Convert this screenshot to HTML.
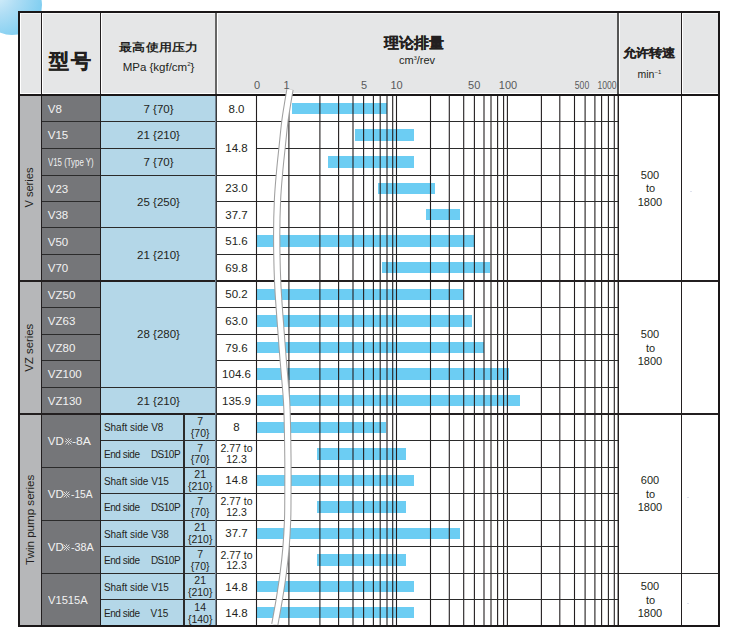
<!DOCTYPE html><html><head><meta charset="utf-8"><style>

*{margin:0;padding:0;box-sizing:border-box}
html,body{width:740px;height:637px;overflow:hidden;background:#fff}
body{position:relative;font-family:"Liberation Sans",sans-serif;color:#231f20}
.a{position:absolute}
.t{position:absolute;white-space:nowrap;line-height:1}
.c{text-align:center}
.bar{position:absolute;background:#6ccdf3;height:11px}
.w{color:#f2f2f2}

</style></head><body>
<div class="a" style="left:-18px;top:-25.2px;width:60px;height:60px;border-radius:50%;background:radial-gradient(circle at 22% 30%,#dcf1fb 0%,#b0def5 35%,#86d0f1 72%,#6fc8ef 100%)"></div>
<div class="a" style="left:18px;top:11px;width:702px;height:85px;background:#e5e6e7"></div>
<div class="a" style="left:18px;top:96px;width:702px;height:531px;background:#fff"></div>
<div class="a" style="left:20px;top:96px;width:21px;height:530px;background:#b6b7b9"></div>
<div class="a" style="left:42px;top:96px;width:58px;height:530px;background:#757679"></div>
<div class="a" style="left:101px;top:96px;width:115px;height:530px;background:#b4d7e8"></div>
<div class="a" style="left:20px;top:13px;width:21px;height:81px;border-left:1px solid #fff;border-top:1px solid #f4f4f4;border-bottom:1px solid #fff"></div>
<div class="a" style="left:42px;top:13px;width:58px;height:81px;border-left:1px solid #fff;border-top:1px solid #f4f4f4;border-bottom:1px solid #fff"></div>
<div class="a" style="left:101px;top:13px;width:115px;height:81px;border-left:1px solid #fff;border-top:1px solid #f4f4f4;border-bottom:1px solid #fff"></div>
<div class="a" style="left:217px;top:13px;width:401px;height:81px;border-left:1px solid #fff;border-top:1px solid #f4f4f4;border-bottom:1px solid #fff"></div>
<div class="a" style="left:619px;top:13px;width:62px;height:81px;border-left:1px solid #fff;border-top:1px solid #f4f4f4;border-bottom:1px solid #fff"></div>
<div class="a" style="left:682px;top:13px;width:36px;height:81px;border-left:1px solid #fff;border-top:1px solid #f4f4f4;border-bottom:1px solid #fff"></div>
<div class="bar" style="left:292.2px;width:94.7px;top:102.90px;height:11.2px"></div>
<div class="bar" style="left:354.8px;width:58.8px;top:129.40px;height:11.2px"></div>
<div class="bar" style="left:328.1px;width:85.5px;top:156.40px;height:11.2px"></div>
<div class="bar" style="left:378.0px;width:56.9px;top:182.90px;height:11.2px"></div>
<div class="bar" style="left:426.3px;width:33.8px;top:208.90px;height:11.2px"></div>
<div class="bar" style="left:257.0px;width:218.0px;top:235.40px;height:11.2px"></div>
<div class="bar" style="left:382.0px;width:108.4px;top:261.90px;height:11.2px"></div>
<div class="bar" style="left:257.0px;width:206.2px;top:288.90px;height:11.2px"></div>
<div class="bar" style="left:257.0px;width:214.9px;top:315.40px;height:11.2px"></div>
<div class="bar" style="left:257.0px;width:227.0px;top:341.90px;height:11.2px"></div>
<div class="bar" style="left:257.0px;width:251.8px;top:368.40px;height:11.2px"></div>
<div class="bar" style="left:257.0px;width:262.6px;top:394.90px;height:11.2px"></div>
<div class="bar" style="left:257.0px;width:129.4px;top:421.90px;height:11.2px"></div>
<div class="bar" style="left:316.5px;width:89.7px;top:448.40px;height:11.2px"></div>
<div class="bar" style="left:257.0px;width:156.7px;top:474.90px;height:11.2px"></div>
<div class="bar" style="left:316.5px;width:89.7px;top:501.40px;height:11.2px"></div>
<div class="bar" style="left:257.0px;width:203.0px;top:527.90px;height:11.2px"></div>
<div class="bar" style="left:316.5px;width:89.7px;top:554.40px;height:11.2px"></div>
<div class="bar" style="left:257.0px;width:156.7px;top:580.90px;height:11.2px"></div>
<div class="bar" style="left:257.0px;width:156.7px;top:606.90px;height:11.2px"></div>
<svg class="a" style="left:0;top:0" width="740" height="637" viewBox="0 0 740 637"><line x1="256.5" y1="94" x2="256.5" y2="626" stroke="#231f20" stroke-width="1.1"/><line x1="288.9" y1="94" x2="288.9" y2="626" stroke="#231f20" stroke-width="1.1"/><line x1="319.9" y1="94" x2="319.9" y2="626" stroke="#231f20" stroke-width="1.1"/><line x1="338.6" y1="94" x2="338.6" y2="626" stroke="#231f20" stroke-width="1.1"/><line x1="353.0" y1="94" x2="353.0" y2="626" stroke="#231f20" stroke-width="1.1"/><line x1="363.6" y1="94" x2="363.6" y2="626" stroke="#231f20" stroke-width="1.1"/><line x1="373.4" y1="94" x2="373.4" y2="626" stroke="#231f20" stroke-width="1.1"/><line x1="380.2" y1="94" x2="380.2" y2="626" stroke="#231f20" stroke-width="1.1"/><line x1="387.0" y1="94" x2="387.0" y2="626" stroke="#231f20" stroke-width="1.1"/><line x1="392.7" y1="94" x2="392.7" y2="626" stroke="#231f20" stroke-width="1.1"/><line x1="396.5" y1="94" x2="396.5" y2="626" stroke="#231f20" stroke-width="1.1"/><line x1="430.5" y1="94" x2="430.5" y2="626" stroke="#231f20" stroke-width="1.1"/><line x1="449.3" y1="94" x2="449.3" y2="626" stroke="#231f20" stroke-width="1.1"/><line x1="463.7" y1="94" x2="463.7" y2="626" stroke="#231f20" stroke-width="1.1"/><line x1="474.4" y1="94" x2="474.4" y2="626" stroke="#231f20" stroke-width="1.1"/><line x1="484" y1="94" x2="484" y2="626" stroke="#231f20" stroke-width="1.1"/><line x1="491" y1="94" x2="491" y2="626" stroke="#231f20" stroke-width="1.1"/><line x1="497.6" y1="94" x2="497.6" y2="626" stroke="#231f20" stroke-width="1.1"/><line x1="503.6" y1="94" x2="503.6" y2="626" stroke="#231f20" stroke-width="1.1"/><line x1="507.4" y1="94" x2="507.4" y2="626" stroke="#231f20" stroke-width="1.1"/><line x1="541.4" y1="94" x2="541.4" y2="626" stroke="#231f20" stroke-width="1.1"/><line x1="559.8" y1="94" x2="559.8" y2="626" stroke="#231f20" stroke-width="1.1"/><line x1="574.5" y1="94" x2="574.5" y2="626" stroke="#231f20" stroke-width="1.1"/><line x1="585.1" y1="94" x2="585.1" y2="626" stroke="#231f20" stroke-width="1.1"/><line x1="594.9" y1="94" x2="594.9" y2="626" stroke="#231f20" stroke-width="1.1"/><line x1="601.6" y1="94" x2="601.6" y2="626" stroke="#231f20" stroke-width="1.1"/><line x1="608.4" y1="94" x2="608.4" y2="626" stroke="#231f20" stroke-width="1.1"/><line x1="614.3" y1="94" x2="614.3" y2="626" stroke="#231f20" stroke-width="1.1"/><line x1="618.1" y1="94" x2="618.1" y2="626" stroke="#231f20" stroke-width="1.1"/></svg>
<div class="a" style="left:257px;width:361px;top:121.00px;height:1px;background:#2b2b2b"></div>
<div class="a" style="left:42px;width:58px;top:121.00px;height:1px;background:#2b2b2b"></div>
<div class="a" style="left:101px;width:115px;top:121.00px;height:1px;background:#2b2b2b"></div>
<div class="a" style="left:217px;width:39px;top:121.00px;height:1px;background:#2b2b2b"></div>
<div class="a" style="left:257px;width:361px;top:148.00px;height:1px;background:#2b2b2b"></div>
<div class="a" style="left:42px;width:58px;top:148.00px;height:1px;background:#2b2b2b"></div>
<div class="a" style="left:101px;width:115px;top:148.00px;height:1px;background:#2b2b2b"></div>
<div class="a" style="left:257px;width:361px;top:175.00px;height:1px;background:#2b2b2b"></div>
<div class="a" style="left:42px;width:58px;top:175.00px;height:1px;background:#2b2b2b"></div>
<div class="a" style="left:101px;width:115px;top:175.00px;height:1px;background:#2b2b2b"></div>
<div class="a" style="left:217px;width:39px;top:175.00px;height:1px;background:#2b2b2b"></div>
<div class="a" style="left:257px;width:361px;top:201.00px;height:1px;background:#2b2b2b"></div>
<div class="a" style="left:42px;width:58px;top:201.00px;height:1px;background:#2b2b2b"></div>
<div class="a" style="left:217px;width:39px;top:201.00px;height:1px;background:#2b2b2b"></div>
<div class="a" style="left:257px;width:361px;top:227.00px;height:1px;background:#2b2b2b"></div>
<div class="a" style="left:42px;width:58px;top:227.00px;height:1px;background:#2b2b2b"></div>
<div class="a" style="left:101px;width:115px;top:227.00px;height:1px;background:#2b2b2b"></div>
<div class="a" style="left:217px;width:39px;top:227.00px;height:1px;background:#2b2b2b"></div>
<div class="a" style="left:257px;width:361px;top:254.00px;height:1px;background:#2b2b2b"></div>
<div class="a" style="left:42px;width:58px;top:254.00px;height:1px;background:#2b2b2b"></div>
<div class="a" style="left:217px;width:39px;top:254.00px;height:1px;background:#2b2b2b"></div>
<div class="a" style="left:18px;width:702px;top:280.00px;height:2px;background:#231f20"></div>
<div class="a" style="left:257px;width:361px;top:307.00px;height:1px;background:#2b2b2b"></div>
<div class="a" style="left:42px;width:58px;top:307.00px;height:1px;background:#2b2b2b"></div>
<div class="a" style="left:217px;width:39px;top:307.00px;height:1px;background:#2b2b2b"></div>
<div class="a" style="left:257px;width:361px;top:334.00px;height:1px;background:#2b2b2b"></div>
<div class="a" style="left:42px;width:58px;top:334.00px;height:1px;background:#2b2b2b"></div>
<div class="a" style="left:217px;width:39px;top:334.00px;height:1px;background:#2b2b2b"></div>
<div class="a" style="left:257px;width:361px;top:360.00px;height:1px;background:#2b2b2b"></div>
<div class="a" style="left:42px;width:58px;top:360.00px;height:1px;background:#2b2b2b"></div>
<div class="a" style="left:217px;width:39px;top:360.00px;height:1px;background:#2b2b2b"></div>
<div class="a" style="left:257px;width:361px;top:387.00px;height:1px;background:#2b2b2b"></div>
<div class="a" style="left:42px;width:58px;top:387.00px;height:1px;background:#2b2b2b"></div>
<div class="a" style="left:101px;width:115px;top:387.00px;height:1px;background:#2b2b2b"></div>
<div class="a" style="left:217px;width:39px;top:387.00px;height:1px;background:#2b2b2b"></div>
<div class="a" style="left:18px;width:702px;top:413.00px;height:2px;background:#231f20"></div>
<div class="a" style="left:257px;width:361px;top:440.00px;height:1px;background:#2b2b2b"></div>
<div class="a" style="left:101px;width:115px;top:440.00px;height:1px;background:#2b2b2b"></div>
<div class="a" style="left:217px;width:39px;top:440.00px;height:1px;background:#2b2b2b"></div>
<div class="a" style="left:257px;width:361px;top:467.00px;height:1px;background:#2b2b2b"></div>
<div class="a" style="left:42px;width:58px;top:467.00px;height:1px;background:#2b2b2b"></div>
<div class="a" style="left:101px;width:115px;top:467.00px;height:1px;background:#2b2b2b"></div>
<div class="a" style="left:217px;width:39px;top:467.00px;height:1px;background:#2b2b2b"></div>
<div class="a" style="left:257px;width:361px;top:493.00px;height:1px;background:#2b2b2b"></div>
<div class="a" style="left:101px;width:115px;top:493.00px;height:1px;background:#2b2b2b"></div>
<div class="a" style="left:217px;width:39px;top:493.00px;height:1px;background:#2b2b2b"></div>
<div class="a" style="left:257px;width:361px;top:520.00px;height:1px;background:#2b2b2b"></div>
<div class="a" style="left:42px;width:58px;top:520.00px;height:1px;background:#2b2b2b"></div>
<div class="a" style="left:101px;width:115px;top:520.00px;height:1px;background:#2b2b2b"></div>
<div class="a" style="left:217px;width:39px;top:520.00px;height:1px;background:#2b2b2b"></div>
<div class="a" style="left:257px;width:361px;top:546.00px;height:1px;background:#2b2b2b"></div>
<div class="a" style="left:101px;width:115px;top:546.00px;height:1px;background:#2b2b2b"></div>
<div class="a" style="left:217px;width:39px;top:546.00px;height:1px;background:#2b2b2b"></div>
<div class="a" style="left:257px;width:361px;top:573.00px;height:1px;background:#2b2b2b"></div>
<div class="a" style="left:42px;width:58px;top:573.00px;height:1px;background:#2b2b2b"></div>
<div class="a" style="left:101px;width:115px;top:573.00px;height:1px;background:#2b2b2b"></div>
<div class="a" style="left:217px;width:39px;top:573.00px;height:1px;background:#2b2b2b"></div>
<div class="a" style="left:619px;width:99px;top:573.00px;height:1px;background:#2b2b2b"></div>
<div class="a" style="left:257px;width:361px;top:599.00px;height:1px;background:#2b2b2b"></div>
<div class="a" style="left:101px;width:115px;top:599.00px;height:1px;background:#2b2b2b"></div>
<div class="a" style="left:217px;width:39px;top:599.00px;height:1px;background:#2b2b2b"></div>
<div class="a" style="left:41.00px;width:1px;top:11px;height:616px;background:#231f20"></div>
<div class="a" style="left:100.00px;width:1px;top:11px;height:616px;background:#231f20"></div>
<div class="a" style="left:215px;top:13px;width:2px;height:81px;background:#666"></div>
<div class="a" style="left:215px;top:96px;width:1px;height:530px;background:#6f8190"></div>
<div class="a" style="left:216px;top:96px;width:1px;height:530px;background:#3a3a3a"></div>
<div class="a" style="left:618.00px;width:1px;top:96px;height:531px;background:#231f20"></div>
<div class="a" style="left:617px;top:13px;width:2px;height:81px;background:#555"></div>
<div class="a" style="left:681.00px;width:1px;top:11px;height:616px;background:#231f20"></div>
<div class="a" style="left:183.45px;width:1.5px;top:413.6px;height:212.39999999999998px;background:#2b2b2b"></div>
<div class="a" style="left:18px;top:11px;width:702px;height:616px;border:2px solid #1a1718"></div>
<div class="a" style="left:18px;width:702px;top:94.00px;height:2px;background:#1a1718"></div>
<svg class="a" style="left:0;top:0" width="740" height="637" viewBox="0 0 740 637"><path d="M290.0,89.5 C289.60,91.85 288.47,98.18 287.6,103.6 C286.73,109.02 285.72,114.70 284.8,122 C283.88,129.30 282.97,139.07 282.1,147.4 C281.23,155.73 280.37,163.23 279.6,172 C278.83,180.77 277.98,189.33 277.5,200 C277.02,210.67 276.67,222.17 276.7,236 C276.73,249.83 276.95,266.67 277.7,283 C278.45,299.33 280.28,321.17 281.2,334 C282.12,346.83 282.47,351.00 283.2,360 C283.93,369.00 284.97,379.67 285.6,388 C286.23,396.33 286.62,398.50 287,410 C287.38,421.50 287.75,442.83 287.9,457 C288.05,471.17 287.95,484.50 287.9,495 C287.85,505.50 287.92,511.23 287.6,520 C287.28,528.77 286.73,538.70 286,547.6 C285.27,556.50 284.32,564.78 283.2,573.4 C282.08,582.02 280.70,590.78 279.3,599.3 C277.90,607.82 275.55,620.30 274.8,624.5" fill="none" stroke="#a0a0a0" stroke-width="7.3"/><path d="M290.0,89.5 C289.60,91.85 288.47,98.18 287.6,103.6 C286.73,109.02 285.72,114.70 284.8,122 C283.88,129.30 282.97,139.07 282.1,147.4 C281.23,155.73 280.37,163.23 279.6,172 C278.83,180.77 277.98,189.33 277.5,200 C277.02,210.67 276.67,222.17 276.7,236 C276.73,249.83 276.95,266.67 277.7,283 C278.45,299.33 280.28,321.17 281.2,334 C282.12,346.83 282.47,351.00 283.2,360 C283.93,369.00 284.97,379.67 285.6,388 C286.23,396.33 286.62,398.50 287,410 C287.38,421.50 287.75,442.83 287.9,457 C288.05,471.17 287.95,484.50 287.9,495 C287.85,505.50 287.92,511.23 287.6,520 C287.28,528.77 286.73,538.70 286,547.6 C285.27,556.50 284.32,564.78 283.2,573.4 C282.08,582.02 280.70,590.78 279.3,599.3 C277.90,607.82 275.55,620.30 274.8,624.5" fill="none" stroke="#fff" stroke-width="5.2"/></svg>
<div class="t " style="left:48.60px;top:50.77px;font-size:20px;font-weight:bold;letter-spacing:2.3px;-webkit-text-stroke:0.4px #231f20;">型号</div>
<div class="t c " style="left:58.90px;top:42.42px;width:200px;font-size:12.5px;font-weight:bold;letter-spacing:0.2px;transform:scaleY(0.85);">最高使用压力</div>
<div class="t c " style="left:58.50px;top:61.27px;width:200px;font-size:11.5px;color:#231f20">MPa {kgf/cm<sup style="font-size:6px;vertical-align:5px">2</sup>}</div>
<div class="t c " style="left:314.00px;top:35.10px;width:200px;font-size:15px;font-weight:bold;-webkit-text-stroke:0.2px #231f20;">理论排量</div>
<div class="t c " style="left:317.00px;top:54.59px;width:200px;font-size:11px;color:#231f20">cm<sup style="font-size:5.5px;vertical-align:3.8px">3</sup>/rev</div>
<div class="t c " style="left:549.00px;top:45.50px;width:200px;font-size:13px;font-weight:bold;transform:scaleY(0.9);-webkit-text-stroke:0.2px #231f20;">允许转速</div>
<div class="t c " style="left:549.40px;top:68.91px;width:200px;font-size:10.5px;color:#231f20">min<sup style="font-size:6px;vertical-align:4px">−1</sup></div>
<div class="t c " style="left:157.00px;top:79.99px;width:200px;font-size:11px;color:#58595b">0</div>
<div class="t c " style="left:186.50px;top:79.99px;width:200px;font-size:11px;color:#58595b">1</div>
<div class="t c " style="left:264.00px;top:79.99px;width:200px;font-size:11px;color:#58595b">5</div>
<div class="t c " style="left:296.50px;top:79.99px;width:200px;font-size:11px;color:#58595b">10</div>
<div class="t c " style="left:374.20px;top:79.99px;width:200px;font-size:11px;color:#58595b">50</div>
<div class="t c " style="left:408.00px;top:79.99px;width:200px;font-size:11px;color:#58595b">100</div>
<div class="t c " style="left:482.00px;top:80.11px;width:200px;font-size:10.5px;color:#58595b;transform:scaleX(0.82)">500</div>
<div class="t c " style="left:506.80px;top:80.11px;width:200px;font-size:10.5px;color:#58595b;transform:scaleX(0.82)">1000</div>
<div class="t w" style="left:47.80px;top:103.94px;font-size:11.5px;">V8</div>
<div class="t w" style="left:47.80px;top:130.49px;font-size:11.5px;">V15</div>
<div class="t w" style="left:47.80px;top:183.59px;font-size:11.5px;">V23</div>
<div class="t w" style="left:47.80px;top:210.14px;font-size:11.5px;">V38</div>
<div class="t w" style="left:47.80px;top:236.69px;font-size:11.5px;">V50</div>
<div class="t w" style="left:47.80px;top:263.24px;font-size:11.5px;">V70</div>
<div class="t w" style="left:47.80px;top:289.79px;font-size:11.5px;">VZ50</div>
<div class="t w" style="left:47.80px;top:316.34px;font-size:11.5px;">VZ63</div>
<div class="t w" style="left:47.80px;top:342.89px;font-size:11.5px;">VZ80</div>
<div class="t w" style="left:47.80px;top:369.44px;font-size:11.5px;">VZ100</div>
<div class="t w" style="left:47.80px;top:395.99px;font-size:11.5px;">VZ130</div>
<div class="t w" style="left:47.80px;top:157.04px;font-size:11.5px;transform:scaleX(0.682);transform-origin:0 0">V15 (Type Y)</div>
<div class="t w" style="left:47.80px;top:435.82px;font-size:11.5px;">VD</div>
<svg class="a" style="left:64.8px;top:437.55px" width="7" height="7" viewBox="0 0 7 7"><path d="M0.7,0.7L6.3,6.3M6.3,0.7L0.7,6.3" stroke="#e8e8e8" stroke-width="0.9"/><circle cx="3.5" cy="0.9" r="0.7" fill="#e8e8e8"/><circle cx="3.5" cy="6.1" r="0.7" fill="#e8e8e8"/><circle cx="0.9" cy="3.5" r="0.7" fill="#e8e8e8"/><circle cx="6.1" cy="3.5" r="0.7" fill="#e8e8e8"/></svg>
<div class="t w" style="left:72.20px;top:435.82px;font-size:11.5px;transform:scaleX(1.06);transform-origin:0 0">-8A</div>
<div class="t w" style="left:47.80px;top:488.92px;font-size:11.5px;">VD</div>
<svg class="a" style="left:63.3px;top:490.65px" width="7" height="7" viewBox="0 0 7 7"><path d="M0.7,0.7L6.3,6.3M6.3,0.7L0.7,6.3" stroke="#e8e8e8" stroke-width="0.9"/><circle cx="3.5" cy="0.9" r="0.7" fill="#e8e8e8"/><circle cx="3.5" cy="6.1" r="0.7" fill="#e8e8e8"/><circle cx="0.9" cy="3.5" r="0.7" fill="#e8e8e8"/><circle cx="6.1" cy="3.5" r="0.7" fill="#e8e8e8"/></svg>
<div class="t w" style="left:71.00px;top:488.92px;font-size:11.5px;transform:scaleX(0.89);transform-origin:0 0">-15A</div>
<div class="t w" style="left:47.80px;top:542.02px;font-size:11.5px;">VD</div>
<svg class="a" style="left:63.3px;top:543.75px" width="7" height="7" viewBox="0 0 7 7"><path d="M0.7,0.7L6.3,6.3M6.3,0.7L0.7,6.3" stroke="#e8e8e8" stroke-width="0.9"/><circle cx="3.5" cy="0.9" r="0.7" fill="#e8e8e8"/><circle cx="3.5" cy="6.1" r="0.7" fill="#e8e8e8"/><circle cx="0.9" cy="3.5" r="0.7" fill="#e8e8e8"/><circle cx="6.1" cy="3.5" r="0.7" fill="#e8e8e8"/></svg>
<div class="t w" style="left:71.00px;top:542.02px;font-size:11.5px;transform:scaleX(0.94);transform-origin:0 0">-38A</div>
<div class="t w" style="left:47.90px;top:595.12px;font-size:11.5px;transform:scaleX(0.97);transform-origin:0 0">V1515A</div>
<div class="t c " style="left:58.50px;top:103.64px;width:200px;font-size:11.5px;">7 {70}</div>
<div class="t c " style="left:58.50px;top:130.19px;width:200px;font-size:11.5px;">21 {210}</div>
<div class="t c " style="left:58.50px;top:156.74px;width:200px;font-size:11.5px;">7 {70}</div>
<div class="t c " style="left:58.50px;top:196.57px;width:200px;font-size:11.5px;">25 {250}</div>
<div class="t c " style="left:58.50px;top:249.67px;width:200px;font-size:11.5px;">21 {210}</div>
<div class="t c " style="left:58.50px;top:329.32px;width:200px;font-size:11.5px;">28 {280}</div>
<div class="t c " style="left:58.50px;top:395.69px;width:200px;font-size:11.5px;">21 {210}</div>
<div class="t c " style="left:136.50px;top:103.64px;width:200px;font-size:11.5px;">8.0</div>
<div class="t c " style="left:136.50px;top:183.29px;width:200px;font-size:11.5px;">23.0</div>
<div class="t c " style="left:136.50px;top:209.84px;width:200px;font-size:11.5px;">37.7</div>
<div class="t c " style="left:136.50px;top:236.39px;width:200px;font-size:11.5px;">51.6</div>
<div class="t c " style="left:136.50px;top:262.94px;width:200px;font-size:11.5px;">69.8</div>
<div class="t c " style="left:136.50px;top:289.49px;width:200px;font-size:11.5px;">50.2</div>
<div class="t c " style="left:136.50px;top:316.04px;width:200px;font-size:11.5px;">63.0</div>
<div class="t c " style="left:136.50px;top:342.59px;width:200px;font-size:11.5px;">79.6</div>
<div class="t c " style="left:136.50px;top:369.14px;width:200px;font-size:11.5px;">104.6</div>
<div class="t c " style="left:136.50px;top:395.69px;width:200px;font-size:11.5px;">135.9</div>
<div class="t c " style="left:136.50px;top:422.24px;width:200px;font-size:11.5px;">8</div>
<div class="t c " style="left:136.50px;top:475.34px;width:200px;font-size:11.5px;">14.8</div>
<div class="t c " style="left:136.50px;top:528.44px;width:200px;font-size:11.5px;">37.7</div>
<div class="t c " style="left:136.50px;top:581.54px;width:200px;font-size:11.5px;">14.8</div>
<div class="t c " style="left:136.50px;top:608.09px;width:200px;font-size:11.5px;">14.8</div>
<div class="t c " style="left:136.50px;top:143.47px;width:200px;font-size:11.5px;">14.8</div>
<div class="t c " style="left:136.50px;top:443.34px;width:200px;font-size:10.5px;">2.77 to</div>
<div class="t c " style="left:136.50px;top:453.64px;width:200px;font-size:10.5px;">12.3</div>
<div class="t c " style="left:136.50px;top:496.44px;width:200px;font-size:10.5px;">2.77 to</div>
<div class="t c " style="left:136.50px;top:506.74px;width:200px;font-size:10.5px;">12.3</div>
<div class="t c " style="left:136.50px;top:549.54px;width:200px;font-size:10.5px;">2.77 to</div>
<div class="t c " style="left:136.50px;top:559.84px;width:200px;font-size:10.5px;">12.3</div>
<div class="t " style="left:103.90px;top:423.41px;font-size:10px;">Shaft side V8</div>
<div class="t c " style="left:100.20px;top:415.99px;width:200px;font-size:10.5px;">7</div>
<div class="t c " style="left:100.20px;top:427.79px;width:200px;font-size:10.5px;">{70}</div>
<div class="t " style="left:103.90px;top:449.96px;font-size:10px;"><span style="letter-spacing:-0.4px">End side</span></div>
<div class="t " style="left:150.90px;top:449.96px;font-size:10px;letter-spacing:-0.5px">DS10P</div>
<div class="t c " style="left:100.20px;top:442.54px;width:200px;font-size:10.5px;">7</div>
<div class="t c " style="left:100.20px;top:454.34px;width:200px;font-size:10.5px;">{70}</div>
<div class="t " style="left:103.90px;top:476.51px;font-size:10px;">Shaft side V15</div>
<div class="t c " style="left:100.20px;top:469.09px;width:200px;font-size:10.5px;">21</div>
<div class="t c " style="left:100.20px;top:480.89px;width:200px;font-size:10.5px;">{210}</div>
<div class="t " style="left:103.90px;top:503.06px;font-size:10px;"><span style="letter-spacing:-0.4px">End side</span></div>
<div class="t " style="left:150.90px;top:503.06px;font-size:10px;letter-spacing:-0.5px">DS10P</div>
<div class="t c " style="left:100.20px;top:495.64px;width:200px;font-size:10.5px;">7</div>
<div class="t c " style="left:100.20px;top:507.44px;width:200px;font-size:10.5px;">{70}</div>
<div class="t " style="left:103.90px;top:529.61px;font-size:10px;">Shaft side V38</div>
<div class="t c " style="left:100.20px;top:522.19px;width:200px;font-size:10.5px;">21</div>
<div class="t c " style="left:100.20px;top:533.99px;width:200px;font-size:10.5px;">{210}</div>
<div class="t " style="left:103.90px;top:556.16px;font-size:10px;"><span style="letter-spacing:-0.4px">End side</span></div>
<div class="t " style="left:150.90px;top:556.16px;font-size:10px;letter-spacing:-0.5px">DS10P</div>
<div class="t c " style="left:100.20px;top:548.74px;width:200px;font-size:10.5px;">7</div>
<div class="t c " style="left:100.20px;top:560.54px;width:200px;font-size:10.5px;">{70}</div>
<div class="t " style="left:103.90px;top:582.71px;font-size:10px;">Shaft side V15</div>
<div class="t c " style="left:100.20px;top:575.29px;width:200px;font-size:10.5px;">21</div>
<div class="t c " style="left:100.20px;top:587.09px;width:200px;font-size:10.5px;">{210}</div>
<div class="t " style="left:103.90px;top:609.26px;font-size:10px;"><span style="letter-spacing:-0.4px">End side</span></div>
<div class="t " style="left:150.60px;top:609.26px;font-size:10px;">V15</div>
<div class="t c " style="left:100.20px;top:601.84px;width:200px;font-size:10.5px;">14</div>
<div class="t c " style="left:100.20px;top:613.64px;width:200px;font-size:10.5px;">{140}</div>
<div class="t c " style="left:550.00px;top:169.91px;width:200px;font-size:11px;">500</div>
<div class="t c " style="left:550.50px;top:183.41px;width:200px;font-size:11px;">to</div>
<div class="t c " style="left:550.00px;top:196.91px;width:200px;font-size:11px;">1800</div>
<div class="t c " style="left:550.00px;top:329.21px;width:200px;font-size:11px;">500</div>
<div class="t c " style="left:550.50px;top:342.71px;width:200px;font-size:11px;">to</div>
<div class="t c " style="left:550.00px;top:356.21px;width:200px;font-size:11px;">1800</div>
<div class="t c " style="left:550.00px;top:475.24px;width:200px;font-size:11px;">600</div>
<div class="t c " style="left:550.50px;top:488.74px;width:200px;font-size:11px;">to</div>
<div class="t c " style="left:550.00px;top:502.24px;width:200px;font-size:11px;">1800</div>
<div class="t c " style="left:550.00px;top:581.44px;width:200px;font-size:11px;">500</div>
<div class="t c " style="left:550.50px;top:594.94px;width:200px;font-size:11px;">to</div>
<div class="t c " style="left:550.00px;top:608.44px;width:200px;font-size:11px;">1800</div>
<div class="t" style="left:-70px;top:182.375px;width:200px;text-align:center;font-size:11.1px;transform:rotate(-90deg);transform-origin:100px 5.55px">V series</div>
<div class="t" style="left:-70px;top:341.55px;width:200px;text-align:center;font-size:11.35px;transform:rotate(-90deg);transform-origin:100px 5.675px">VZ series</div>
<div class="t" style="left:-70px;top:514.4px;width:200px;text-align:center;font-size:11.6px;transform:rotate(-90deg);transform-origin:100px 5.8px">Twin pump series</div>
<div class="a" style="left:690px;top:191px;width:2px;height:1px;background:#dfe2ee"></div>
<div class="a" style="left:687px;top:497px;width:2px;height:1px;background:#dfe2ee"></div>
<div class="a" style="left:687px;top:603px;width:2px;height:1px;background:#dfe2ee"></div>
</body></html>
